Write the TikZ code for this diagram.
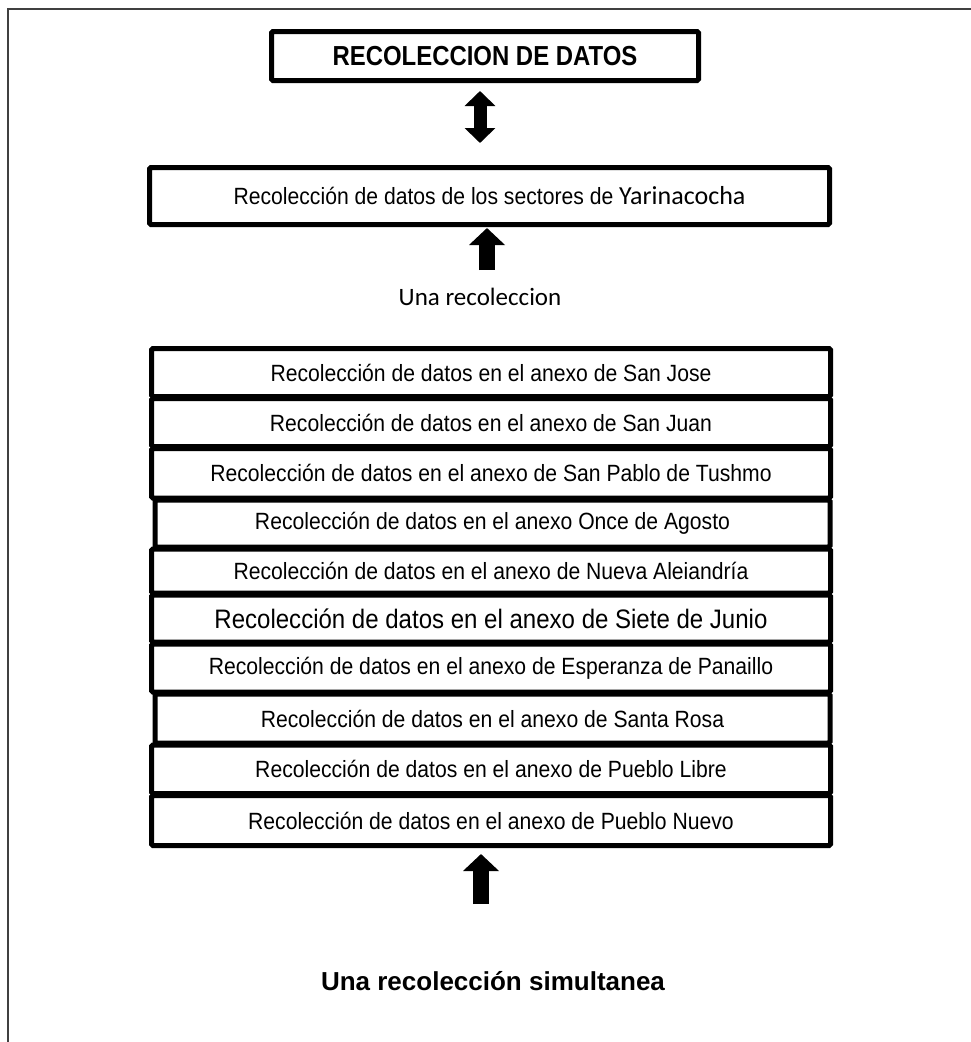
\documentclass[tikz,border=0pt]{standalone}
\usepackage{fontspec}
\setmainfont{Liberation Sans}
\newfontfamily\arialn[FakeStretch=0.9]{Liberation Sans}
\newfontfamily\arialbn[FakeStretch=0.87]{Liberation Sans}
\newfontfamily\calibri{Carlito}
\usetikzlibrary{arrows.meta}
\begin{document}
\begin{tikzpicture}[x=1pt,y=-1pt,
  box/.style={draw, line width=5pt, rounded corners=1.5pt, fill=white, inner sep=0pt, align=center},
  stackbox/.style={box, minimum width=679pt, font=\arialn\fontsize{23.5}{27}\selectfont},
  blockarrow/.style={line width=16pt, -{Triangle[length=17pt,width=35pt]}},
  dblarrow/.style={line width=13pt, {Triangle[length=15pt,width=30pt]}-{Triangle[length=15pt,width=30pt]}},
  frameline/.style={line width=1.5pt, black!75}]
\useasboundingbox (0,0) rectangle (971,1042);
% frame
\coordinate (f1) at (8,1042);
\coordinate (f2) at (8,9);
\coordinate (f3) at (971,9);
\draw[frameline] (f1) -- (f2) -- (f3);
% top box
\node[box, minimum width=427pt, minimum height=49pt, font=\arialbn\bfseries\fontsize{27.5}{30}\selectfont] (titlebox) at (485,56) {RECOLECCION DE DATOS};
% double arrow
\coordinate (da) at (480,143);
\coordinate (db) at (480,91);
\draw[dblarrow] (da) -- (db);
% second box
\node[box, minimum width=680pt, minimum height=57pt, font=\arialn\fontsize{23.5}{27}\selectfont] (sectores) at (489.5,196) {Recolección de datos de los sectores de {\calibri\fontsize{26}{30}\selectfont Yarinacocha}};
% arrow up 1
\coordinate (ua) at (487,270);
\coordinate (ub) at (487,228);
\draw[blockarrow] (ua) -- (ub);
\node[font=\calibri\fontsize{25}{30}\selectfont] (una) at (480,297) {Una recoleccion};
% stack
\node[stackbox, minimum height=48pt] (s1) at (491,372.5) {Recolección de datos en el anexo de San Jose};
\node[stackbox, minimum height=48pt] (s2) at (491,422.5) {Recolección de datos en el anexo de San Juan};
\node[stackbox, minimum height=49.5pt] (s3) at (491,473.25) {Recolección de datos en el anexo de San Pablo de Tushmo};
\node[stackbox, minimum width=675pt, minimum height=47pt] (s4) at (492.5,523.5) {Recolección de datos en el anexo Once de Agosto};
\node[stackbox, minimum height=44pt] (s5) at (491,571) {Recolección de datos en el anexo de Nueva Aleiandría};
\node[stackbox, minimum height=47pt, font=\arialn\fontsize{26.7}{30}\selectfont] (s6) at (491,618.5) {Recolección de datos en el anexo de Siete de Junio};
\node[stackbox, minimum height=48pt] (s7) at (491,668) {Recolección de datos en el anexo de Esperanza de Panaillo};
\node[stackbox, minimum width=675pt, minimum height=49pt] (s8) at (492.5,718.5) {Recolección de datos en el anexo de Santa Rosa};
\node[stackbox, minimum height=48.5pt] (s9) at (491,769.25) {Recolección de datos en el anexo de Pueblo Libre};
\node[stackbox, minimum height=50pt] (s10) at (491,820.5) {Recolección de datos en el anexo de Pueblo Nuevo};
% arrow up 2
\coordinate (va) at (481,904);
\coordinate (vb) at (481,854);
\draw[blockarrow] (va) -- (vb);
\node[font=\bfseries\fontsize{26}{30}\selectfont] (simul) at (493,981) {Una recolección simultanea};
\end{tikzpicture}
\end{document}
